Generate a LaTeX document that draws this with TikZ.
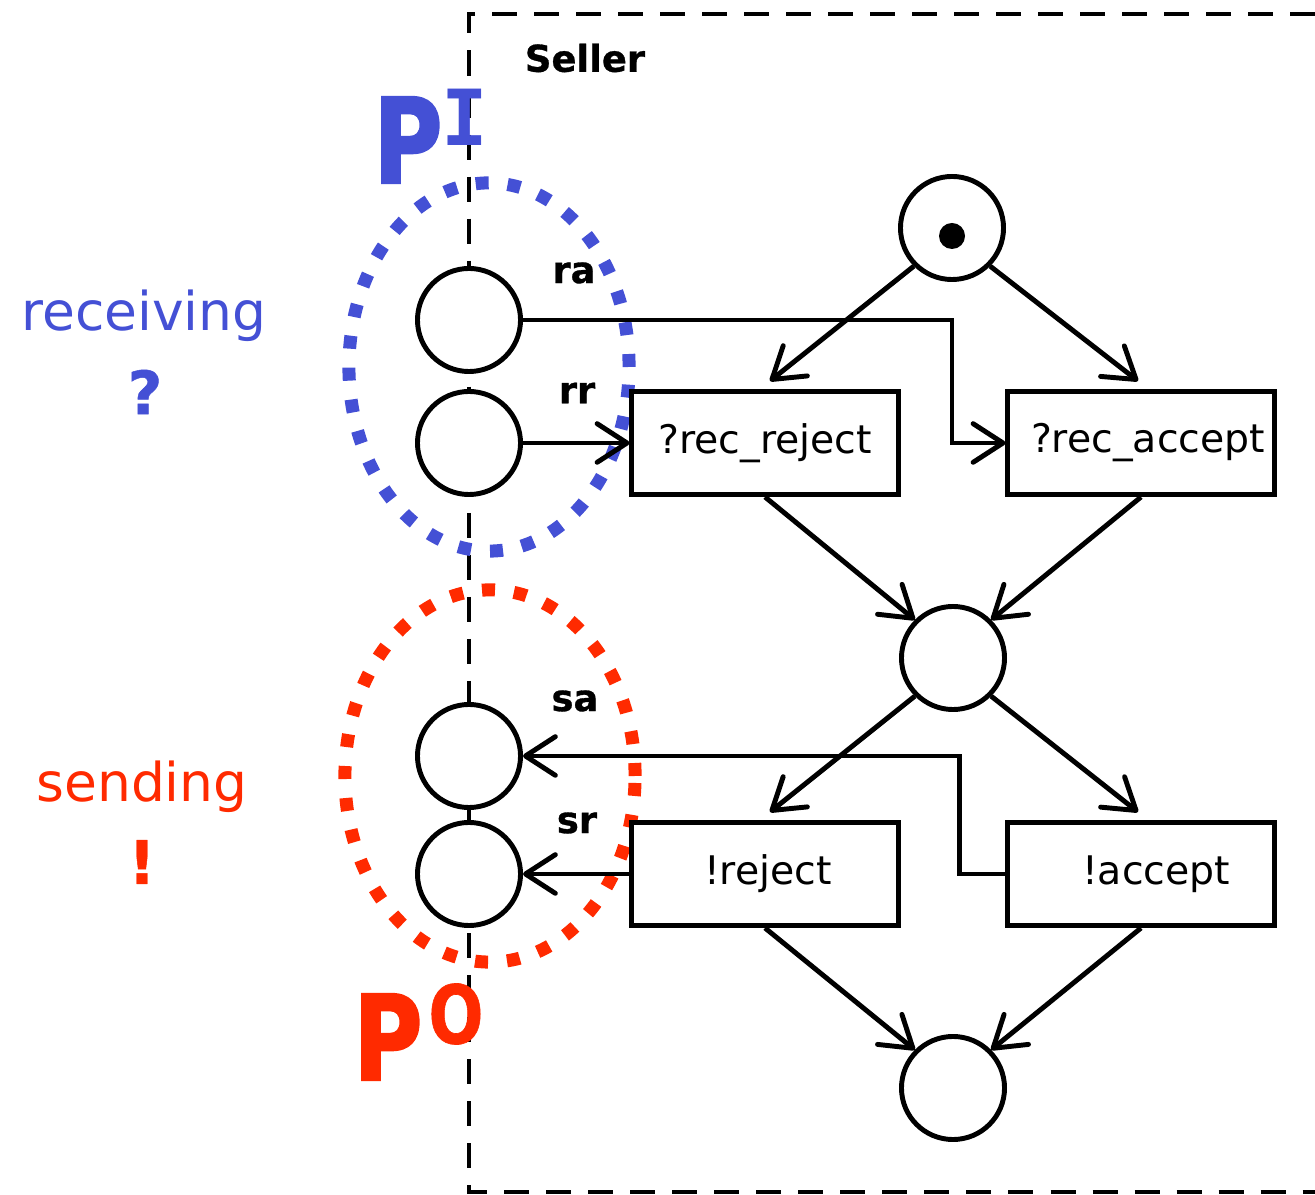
\documentclass[tikz,border=0pt]{standalone}
\usepackage{fontspec}
\setmainfont{DejaVu Sans}
\newfontfamily\heavyfont{DejaVu Sans}[UprightFont=* Bold,FakeBold=0.8]
\newfontfamily\heavierfont{DejaVu Sans}[UprightFont=* Bold,FakeBold=2]
\usetikzlibrary{arrows.meta}
\tikzset {>={Straight Barb[length=8.5pt,width=11pt,round]}}
\definecolor{recvblue}{RGB}{68,80,213}
\definecolor{sendred}{RGB}{255,42,0}
\newcommand\portfont{\heavyfont\fontsize{10.5}{12}\selectfont}
\newcommand\transfont{\fontsize{11.2}{13}\selectfont}
\newcommand\sidefont{\fontsize{15.2}{18}\selectfont}
\newcommand\bigP{\heavierfont\fontsize{33.5}{36}\selectfont}
\tikzset{
  place/.style={circle,draw,fill=white,minimum size=1.03cm,inner sep=0pt},
  trans/.style={rectangle,draw,fill=white,minimum width=2.66cm,minimum height=1.03cm,inner sep=0pt,font=\transfont},
  iface/.style={line width=0.13cm,dash pattern=on 0.13cm off 0.19cm}
}

\begin{document}
\begin{tikzpicture}[x=0.01cm,y=-0.01cm,line width=1.4pt]
\useasboundingbox (0,0) rectangle (1315,1195);
% seller boundary
\draw[line width=1.25pt,dash pattern=on 0.25cm off 0.17cm] (1315,14) -- (469,14) -- (469,1192) -- (1315,1192);
\node[font=\portfont] (seller) at (585,58) {Seller};

% interfaces
\draw[iface,recvblue] (489,367) ellipse [x radius=1.40cm,y radius=1.84cm];
\draw[iface,sendred] (490,776) ellipse [x radius=1.45cm,y radius=1.86cm];
\node[recvblue,font=\bigP,xscale=0.8] (PI) at (408,140) {P};
\node[recvblue,font=\fontspec{DejaVu Sans Mono}\bfseries\fontsize{22}{24}\selectfont] (PIs) at (465,117) {I};
\node[sendred,font=\bigP,xscale=0.8] (PO) at (388,1037) {P};
\node[sendred,font=\heavyfont\fontsize{23}{25}\selectfont,xscale=0.8] (POs) at (456,1014) {O};
\node[recvblue,font=\sidefont] (recv) at (144,316) {receiving};
\node[recvblue,font=\heavyfont\fontsize{17}{20}\selectfont] (qm) at (145,392) {?};
\node[sendred,font=\sidefont] (send) at (142,787) {sending};
\node[sendred,font=\heavyfont\fontsize{17}{20}\selectfont] (em) at (142,862) {!};

% ports
\node[place] (ra) at (469,320) {};
\node[place] (rr) at (469,443) {};
\node[place] (sa) at (469,756) {};
\node[place] (sr) at (469,874) {};
\node[font=\portfont] at (574,273) {ra};
\node[font=\portfont] at (577,393) {rr};
\node[font=\portfont] at (575,701) {sa};
\node[font=\portfont] at (577,823) {sr};

% net
\node[place] (p0) at (952,228) {};
\fill (952,236) circle [radius=0.13cm];
\node[trans] (recrej) at (765,443) {?rec\_reject};
\node[trans] (recacc) at (1141,443) {\hspace{0.14cm}?rec\_accept};
\node[place] (p1) at (953,658) {};
\node[trans] (sndrej) at (765,874) {\hspace{0.06cm}!reject};
\node[trans] (sndacc) at (1141,874) {\hspace{0.3cm}!accept};
\node[place] (p2) at (953,1088) {};

\draw[->] (p0.south west) -- ([xshift=0.05cm,yshift=0.08cm]recrej.north);
\draw[->] (p0.south east) -- ([xshift=-0.03cm,yshift=0.08cm]recacc.north);
\draw[->] (recrej.south) -- (p1.north west);
\draw[->] (recacc.south) -- (p1.north east);
\draw[->] (p1.south west) -- ([xshift=0.05cm,yshift=0.08cm]sndrej.north);
\draw[->] (p1.south east) -- ([xshift=-0.03cm,yshift=0.08cm]sndacc.north);
\draw[->] (sndrej.south) -- (p2.north west);
\draw[->] (sndacc.south) -- (p2.north east);

\draw[->] (ra.east) -- (p0 |- ra.east) |- (recacc.west);
\draw[->] (rr.east) -- (recrej.west);
\draw[->] (sndacc.west) -- ++(-46,0) |- (sa.east);
\draw[->] (sndrej.west) -- (sr.east);
\end{tikzpicture}
\end{document}
